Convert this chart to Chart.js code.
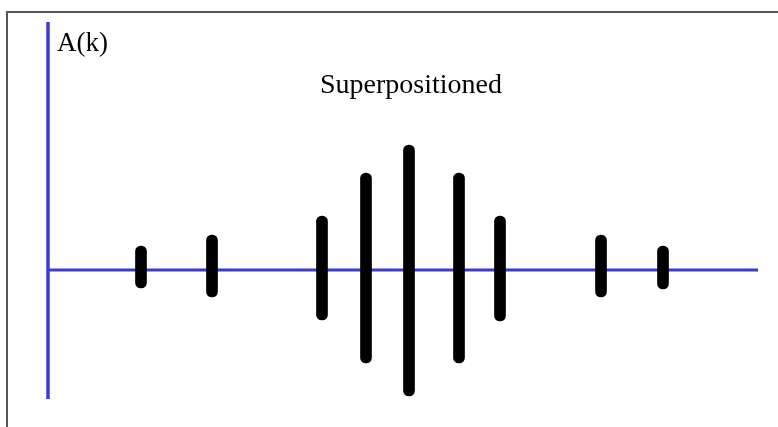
<!DOCTYPE html>
<html>
<head>
<meta charset="utf-8">
<title>Superpositioned</title>
<script src="https://cdn.jsdelivr.net/npm/chart.js@4"></script>
<style>
  html, body { margin: 0; padding: 0; background: #fff; }
  #wrap { position: relative; width: 778px; height: 427px; }
</style>
</head>
<body>
<div id="wrap"><canvas id="chart" width="778" height="427"></canvas></div>
<script>
// ---- data (k position, amplitude low / high) ----
const kValues = [9.3, 16.4, 27.4, 31.8, 36.1, 41.1, 45.2, 55.3, 61.5];
const ampLow  = [-1.8, -2.7, -5.0, -9.3, -12.6, -9.3, -5.1, -2.7, -1.9];
const ampHigh = [2.4, 3.5, 5.4, 9.7, 12.5, 9.7, 5.4, 3.5, 2.4];

// axes extent (data units)
const kAxis = [0, 71];
const aAxis = [-12.9, 24.8];

const titleText = "Superpositioned";
const yLabel = "A(k)";

// frame + texts
const decorPlugin = {
  id: "decor",
  beforeDraw(chart) {
    const c = chart.ctx;
    c.save();
    c.fillStyle = "#fff";
    c.fillRect(0, 0, chart.width, chart.height);
    c.strokeStyle = "#555";
    c.lineWidth = 2;
    c.beginPath();
    c.moveTo(7, chart.height);
    c.lineTo(7, 12);
    c.lineTo(chart.width, 12);
    c.stroke();
    c.restore();
  },
  afterDraw(chart) {
    const c = chart.ctx;
    const x = chart.scales.x, y = chart.scales.y;
    c.save();
    c.fillStyle = "#000";
    c.textBaseline = "alphabetic";
    c.textAlign = "left";
    c.font = "27px 'Liberation Serif', 'DejaVu Serif', serif";
    c.fillText(yLabel, x.getPixelForValue(0.9), y.getPixelForValue(21.9));
    c.textAlign = "center";
    c.font = "28px 'Liberation Serif', 'DejaVu Serif', serif";
    c.fillText(titleText, x.getPixelForValue(36.3), y.getPixelForValue(17.7));
    c.restore();
  }
};

const ctx = document.getElementById("chart").getContext("2d");

new Chart(ctx, {
  type: "bar",
  data: {
    datasets: [
      {
        type: "line",
        data: [{ x: kAxis[0], y: 0 }, { x: kAxis[1], y: 0 }],
        borderColor: "#3b3bd4",
        borderWidth: 3,
        pointRadius: 0,
        order: 2,
      },
      {
        type: "line",
        data: [{ x: 0, y: aAxis[0] }, { x: 0, y: aAxis[1] }],
        borderColor: "#3b3bd4",
        borderWidth: 3.5,
        pointRadius: 0,
        order: 2,
      },
      {
        type: "bar",
        data: kValues.map((k, i) => ({ x: k, y: [ampLow[i], ampHigh[i]] })),
        backgroundColor: "#000",
        borderSkipped: false,
        borderRadius: 6,
        barThickness: 11,
        order: 1,
      },
    ],
  },
  options: {
    responsive: false,
    animation: false,
    layout: { padding: 0 },
    plugins: { legend: { display: false }, tooltip: { enabled: false } },
    scales: {
      x: { type: "linear", min: -4.8, max: 73.0, offset: false, display: false },
      y: { type: "linear", min: -15.7, max: 27.0, display: false },
    },
  },
  plugins: [decorPlugin],
});
</script>
</body>
</html>
